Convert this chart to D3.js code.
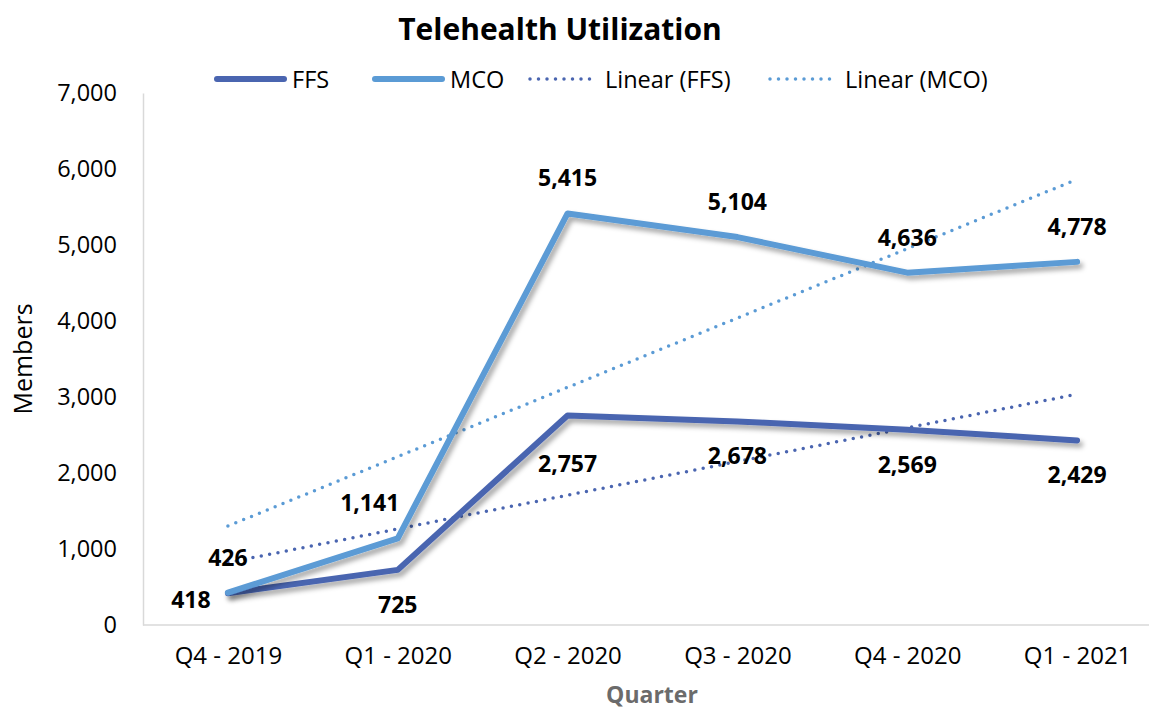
<!DOCTYPE html>
<html>
<head>
<meta charset="utf-8">
<script src="https://cdn.jsdelivr.net/npm/d3@7"></script>
<style>
  html, body { margin: 0; padding: 0; background: #fff; }
  svg text { font-family: "Open Sans", sans-serif; }
</style>
</head>
<body>
<svg id="chart" width="1149" height="713"></svg>
<script>
// Data
const quarters = ['Q4 - 2019', 'Q1 - 2020', 'Q2 - 2020', 'Q3 - 2020', 'Q4 - 2020', 'Q1 - 2021'];
const ffsValues = [418, 725, 2757, 2678, 2569, 2429];
const mcoValues = [426, 1141, 5415, 5104, 4636, 4778];
const yTicks = [0, 1000, 2000, 3000, 4000, 5000, 6000, 7000];

// where each data label sits relative to its point
const ffsLabelPos = ['left', 'below', 'belowFar', 'below', 'below', 'below'];
const mcoLabelPos = ['above', 'aboveLeft', 'above', 'above', 'above', 'above'];

const FFS_COLOR = '#4a65b0';
const MCO_COLOR = '#5b9bd5';

const width = 1149, height = 713;
const margin = {top: 93, right: -13, bottom: 88, left: 143};

const svg = d3.select('#chart');

// drop shadow like the office chart
const defs = svg.append('defs');
defs.append('filter')
    .attr('id', 'shadow')
    .attr('x', '-10%').attr('y', '-10%')
    .attr('width', '130%').attr('height', '130%')
  .append('feDropShadow')
    .attr('dx', 3).attr('dy', 4)
    .attr('stdDeviation', 2.5)
    .attr('flood-color', '#000')
    .attr('flood-opacity', 0.35);

const x = d3.scalePoint()
  .domain(quarters)
  .range([margin.left, width - margin.right])
  .padding(0.5);

const y = d3.scaleLinear()
  .domain([0, 7000])
  .range([height - margin.bottom, margin.top]);

// least squares trendline, like Excel's "Linear" option
function linearFit(values) {
  const xs = values.map((v, i) => i + 1);
  const mx = d3.mean(xs), my = d3.mean(values);
  const sxy = d3.sum(xs, (xi, i) => (xi - mx) * (values[i] - my));
  const sxx = d3.sum(xs, xi => (xi - mx) * (xi - mx));
  const m = sxy / sxx;
  const b = my - m * mx;
  return xs.map(xi => b + m * xi);
}

// axes
const yAxis = d3.axisLeft(y)
  .tickValues(yTicks)
  .tickSize(0)
  .tickPadding(26)
  .tickFormat(d3.format(','));

svg.append('g')
    .attr('transform', `translate(${margin.left},0)`)
    .call(yAxis)
    .call(g => g.select('.domain').attr('stroke', '#d9d9d9').attr('stroke-width', 1.5))
    .call(g => g.selectAll('text')
      .attr('font-size', 23.5)
      .attr('fill', '#000')
      .attr('font-family', '"Open Sans", sans-serif'));

const xAxis = d3.axisBottom(x)
  .tickSize(0)
  .tickPadding(22);

svg.append('g')
    .attr('transform', `translate(0,${height - margin.bottom})`)
    .call(xAxis)
    .call(g => g.select('.domain')
      .attr('d', `M${margin.left},0H${width}`)
      .attr('stroke', '#d9d9d9').attr('stroke-width', 1.5))
    .call(g => g.selectAll('text')
      .attr('font-size', 24)
      .attr('fill', '#000')
      .attr('font-family', '"Open Sans", sans-serif'));

// axis titles
svg.append('text')
    .attr('transform', `translate(32,${(margin.top + height - margin.bottom) / 2}) rotate(-90)`)
    .attr('text-anchor', 'middle')
    .attr('font-size', 25)
    .attr('fill', '#000')
    .text('Members');

svg.append('text')
    .attr('x', 652)
    .attr('y', 703)
    .attr('text-anchor', 'middle')
    .attr('font-size', 23)
    .attr('font-weight', 'bold')
    .attr('fill', '#6b6b6b')
    .text('Quarter');

// title
svg.append('text')
    .attr('x', 560)
    .attr('y', 40)
    .attr('text-anchor', 'middle')
    .attr('font-size', 30)
    .attr('font-weight', 'bold')
    .attr('fill', '#000')
    .text('Telehealth Utilization');

const line = d3.line()
  .x((d, i) => x(quarters[i]))
  .y(d => y(d));

// trendlines first, underneath
[[ffsValues, FFS_COLOR], [mcoValues, MCO_COLOR]].forEach(([vals, color]) => {
  svg.append('path')
    .attr('d', line(linearFit(vals)))
    .attr('fill', 'none')
    .attr('stroke', color)
    .attr('stroke-width', 3.5)
    .attr('stroke-linecap', 'round')
    .attr('stroke-dasharray', '0 8.5');
});

// series lines
[[ffsValues, FFS_COLOR], [mcoValues, MCO_COLOR]].forEach(([vals, color]) => {
  svg.append('path')
    .attr('d', line(vals))
    .attr('fill', 'none')
    .attr('stroke', color)
    .attr('stroke-width', 6)
    .attr('stroke-linejoin', 'round')
    .attr('stroke-linecap', 'round')
    .attr('filter', 'url(#shadow)');
});

// data labels
function drawLabels(vals, positions) {
  svg.append('g')
    .selectAll('text')
    .data(vals)
    .enter()
    .append('text')
      .attr('x', (d, i) => {
        const px = x(quarters[i]);
        if (positions[i] === 'left') return px - 37;
        if (positions[i] === 'aboveLeft') return px - 28;
        return px;
      })
      .attr('y', (d, i) => {
        const py = y(d);
        if (positions[i] === 'left') return py + 15;
        if (positions[i] === 'below') return py + 43;
        if (positions[i] === 'belowFar') return py + 57;
        return py - 27;
      })
      .attr('text-anchor', 'middle')
      .attr('font-size', 23)
      .attr('font-weight', 'bold')
      .attr('fill', '#000')
      .text(d => d3.format(',')(d));
}
drawLabels(mcoValues, mcoLabelPos);
drawLabels(ffsValues, ffsLabelPos);

// legend
const legendItems = [
  {name: 'FFS', color: FFS_COLOR, dotted: false, x: 217},
  {name: 'MCO', color: MCO_COLOR, dotted: false, x: 375},
  {name: 'Linear (FFS)', color: FFS_COLOR, dotted: true, x: 530},
  {name: 'Linear (MCO)', color: MCO_COLOR, dotted: true, x: 770}
];

const legend = svg.append('g')
  .selectAll('g')
  .data(legendItems)
  .enter()
  .append('g')
    .attr('transform', d => `translate(${d.x},79)`);

legend.append('line')
    .attr('x1', 0).attr('x2', 67)
    .attr('y1', 0).attr('y2', 0)
    .attr('stroke', d => d.color)
    .attr('stroke-width', d => d.dotted ? 3.5 : 6)
    .attr('stroke-linecap', 'round')
    .attr('stroke-dasharray', d => d.dotted ? '0 8.5' : null);

legend.append('text')
    .attr('x', 75)
    .attr('y', 8.5)
    .attr('font-size', 23.5)
    .attr('fill', '#000')
    .text(d => d.name);
</script>
</body>
</html>
